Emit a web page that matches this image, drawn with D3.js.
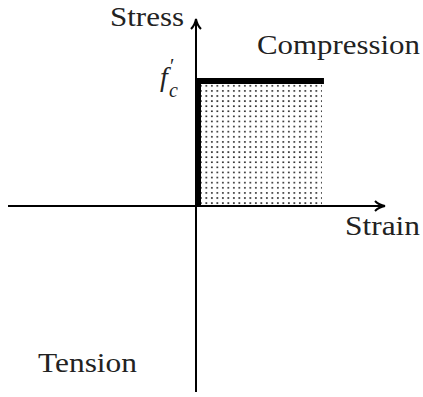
<!DOCTYPE html>
<html><head><meta charset="utf-8"><script src="https://cdn.jsdelivr.net/npm/d3@7"></script></head>
<body style="margin:0">
<script>
// Data: rigid-plastic stress-strain (normalised units)
const strainPts = [0, 0, 0.67];
const stressPts = [0, 0.672, 0.672];
const axisLabels = ["Strain", "Stress"];
const regionLabels = ["Compression", "Tension"];

const width = 423, height = 397;
const svg = d3.select("body").append("svg")
    .attr("width", width)
    .attr("height", height);

const x = d3.scaleLinear().domain([-1, 1]).range([8, 384]);
const y = d3.scaleLinear().domain([-1, 1]).range([392, 20]);

const defs = svg.append("defs");
defs.append("marker")
    .attr("id", "arrow")
    .attr("viewBox", "0 0 12 12")
    .attr("refX", 10).attr("refY", 6)
    .attr("markerWidth", 12).attr("markerHeight", 12)
    .attr("markerUnits", "userSpaceOnUse")
    .attr("orient", "auto")
    .append("path")
    .attr("d", "M1,1 Q5,5 11,6 Q5,7 1,11")
    .attr("fill", "none")
    .attr("stroke", "#000")
    .attr("stroke-width", 2);

const pat = defs.append("pattern")
    .attr("id", "dots")
    .attr("patternUnits", "userSpaceOnUse")
    .attr("x", x(0) + 3).attr("y", y(stressPts[1]) + 3)
    .attr("width", 5.5).attr("height", 5.1);
pat.append("rect").attr("x", 1).attr("y", 1).attr("width", 1.7).attr("height", 1.6).attr("fill", "#222");

// shaded area under the curve
const area = d3.area()
    .x(d => x(d[0]))
    .y0(y(0))
    .y1(d => y(d[1]));
const pts = strainPts.map((s, i) => [s, stressPts[i]]);
svg.append("path")
    .datum(pts.slice(1))
    .attr("d", area)
    .attr("fill", "url(#dots)");

// axes
svg.append("line")
    .attr("x1", x(-1)).attr("x2", x(1))
    .attr("y1", y(0)).attr("y2", y(0))
    .attr("stroke", "#000").attr("stroke-width", 2)
    .attr("marker-end", "url(#arrow)");
svg.append("line")
    .attr("x1", x(0)).attr("x2", x(0))
    .attr("y1", y(-1)).attr("y2", y(1))
    .attr("stroke", "#000").attr("stroke-width", 2)
    .attr("marker-end", "url(#arrow)");

// stress-strain curve
const line = d3.line().x(d => x(d[0]) + 2).y(d => y(d[1]));
svg.append("path")
    .datum(pts)
    .attr("d", line)
    .attr("fill", "none")
    .attr("stroke", "#000")
    .attr("stroke-width", 6)
    .attr("stroke-linejoin", "miter")
    .attr("stroke-linecap", "butt");

// labels
function label(txt, lx, ly, w) {
    svg.append("text").attr("x", lx).attr("y", ly)
        .attr("font-size", 27)
        .style("font-family", "Liberation Serif")
        .style("fill", "#222")
        .attr("textLength", w).attr("lengthAdjust", "spacingAndGlyphs")
        .text(txt);
}
label(axisLabels[1], 110, 26, 74);
label(axisLabels[0], 345, 235, 75);
label(regionLabels[0], 257, 54, 163);
label(regionLabels[1], 38, 372, 99);

// f'_c label (pieces kept apart so their boxes do not overlap)
svg.append("text").attr("x", 160).attr("y", 86)
    .attr("font-size", 28)
    .style("font-family", "Liberation Serif")
    .style("font-style", "italic")
    .style("fill", "#222")
    .text("f");
svg.append("text").attr("x", 170).attr("y", 73)
    .attr("font-size", 20)
    .style("font-family", "Liberation Serif")
    .style("fill", "#222")
    .text("′");
svg.append("text").attr("x", 169).attr("y", 97)
    .attr("font-size", 20)
    .style("font-family", "Liberation Serif")
    .style("font-style", "italic")
    .style("fill", "#222")
    .text("c");
</script>
</body></html>
